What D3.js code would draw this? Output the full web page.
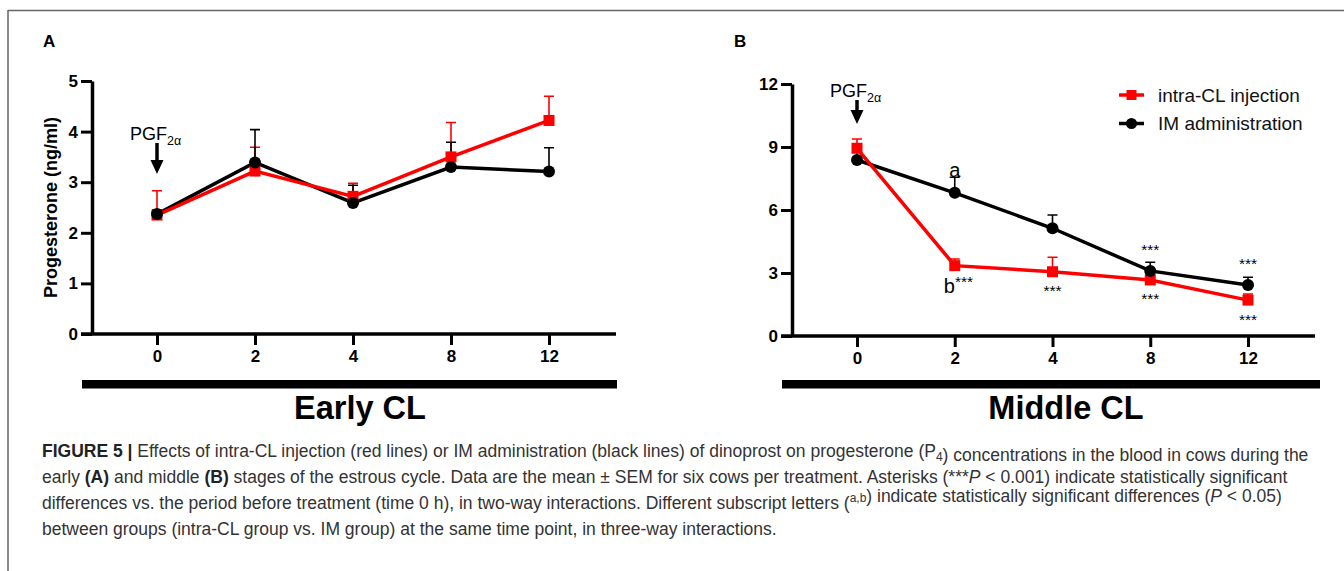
<!DOCTYPE html>
<meta charset="utf-8" />
<script src="https://d3js.org/d3.v7.min.js"></script>
<style>
  body { margin: 0; background: #fff; }
  text { font-family: "Liberation Sans", Arial, Helvetica, sans-serif; }
</style>
<div id="my_dataviz"></div>

<script>
  // sampling times (h) and the two treatments
  const times = ["0", "2", "4", "8", "12"];

  // panel A - early CL (mean, SEM)
  const earlyIntraCL = [2.35, 3.22, 2.72, 3.5, 4.22];
  const earlyIntraCLSem = [0.48, 0.47, 0.26, 0.68, 0.48];
  const earlyIM = [2.37, 3.39, 2.59, 3.3, 3.21];
  const earlyIMSem = [0.08, 0.65, 0.35, 0.49, 0.47];

  // panel B - middle CL (mean, SEM)
  const middleIntraCL = [8.94, 3.35, 3.06, 2.67, 1.71];
  const middleIntraCLSem = [0.44, 0.32, 0.69, 0.22, 0.29];
  const middleIM = [8.38, 6.82, 5.13, 3.1, 2.43];
  const middleIMSem = [0.48, 0.74, 0.63, 0.41, 0.37];

  const earlyTicks = [0, 1, 2, 3, 4, 5];
  const middleTicks = [0, 3, 6, 9, 12];

  const seriesNames = ["intra-CL injection", "IM administration"];
  const red = "#ff0000";

  const svg = d3
    .select("#my_dataviz")
    .append("svg")
    .attr("width", 1344)
    .attr("height", 571);

  // frame (top and left rules)
  svg.append("line").attr("x1", 8).attr("x2", 1344).attr("y1", 10.5).attr("y2", 10.5)
    .attr("stroke", "#666").attr("stroke-width", 1.5);
  svg.append("line").attr("x1", 8).attr("x2", 8).attr("y1", 10).attr("y2", 571)
    .attr("stroke", "#666").attr("stroke-width", 1.5);

  function drawPanel(p) {
    const x = d3.scalePoint().domain(times).range([p.x0, p.x1]);
    const y = d3.scaleLinear().domain([0, p.ymax]).range([p.yBottom, p.yTop]);
    const g = svg.append("g");

    // panel letter
    g.append("text").attr("x", p.letterX).attr("y", 47)
      .style("font-weight", "bold").style("font-size", "17px").text(p.letter);

    // y axis
    const yAxis = g.append("g")
      .attr("transform", `translate(${p.axisX},0)`)
      .call(d3.axisLeft(y).tickValues(p.ticks).tickFormat(d3.format("d"))
        .tickSize(11).tickPadding(3).tickSizeOuter(0));
    yAxis.select(".domain").attr("stroke-width", 3.5);
    yAxis.selectAll(".tick line").attr("stroke-width", 3);
    yAxis.selectAll(".tick text").style("font-size", "17px").style("font-weight", "bold")
      .attr("fill", "#000");

    // x axis: line starts at y tick end
    g.append("line").attr("x1", p.axisX - 11).attr("x2", p.xEnd)
      .attr("y1", p.yBottom).attr("y2", p.yBottom)
      .attr("stroke", "#000").attr("stroke-width", 3.5);
    const xAxis = g.append("g")
      .attr("transform", `translate(0,${p.yBottom})`)
      .call(d3.axisBottom(x).tickSize(11).tickPadding(5).tickSizeOuter(0));
    xAxis.select(".domain").remove();
    xAxis.selectAll(".tick line").attr("stroke-width", 3);
    xAxis.selectAll(".tick text").style("font-size", "17px").style("font-weight", "bold")
      .attr("fill", "#000");

    // stage bar and title
    g.append("rect").attr("x", p.axisX - 10).attr("width", p.barEnd - p.axisX + 10)
      .attr("y", 380).attr("height", 8.5).attr("fill", "#000");
    g.append("text").attr("x", p.titleX).attr("y", 419)
      .attr("text-anchor", "middle").style("font-weight", "bold").style("font-size", "32.5px")
      .text(p.title);

    if (p.yLabel) {
      g.append("text")
        .attr("transform", `translate(57,${(p.yTop + p.yBottom) / 2}) rotate(-90)`)
        .attr("text-anchor", "middle").style("font-weight", "bold").style("font-size", "18px")
        .text(p.yLabel);
    }

    // PGF2a label with arrow over time 0
    const ax = x("0");
    const lbl = g.append("text").attr("x", ax - 27).attr("y", p.pgfY).style("font-size", "18px");
    lbl.append("tspan").text("PGF");
    lbl.append("tspan").attr("dy", 5).style("font-size", "12.5px").text("2α");
    g.append("line").attr("x1", ax).attr("x2", ax).attr("y1", p.pgfY + 3).attr("y2", p.arrowTip - 10)
      .attr("stroke", "#000").attr("stroke-width", 3.5);
    g.append("path")
      .attr("d", `M${ax - 6.5},${p.arrowTip - 14}L${ax + 6.5},${p.arrowTip - 14}L${ax},${p.arrowTip}Z`)
      .attr("fill", "#000");

    const series = [
      { mean: p.red, sem: p.redSem, color: red },
      { mean: p.black, sem: p.blackSem, color: "#000" },
    ];

    // upper SEM bars
    series.forEach(function (s) {
      g.selectAll(null).data(times).join("path")
        .attr("d", function (t, i) {
          const xx = x(t), y0 = y(s.mean[i]), y1 = y(s.mean[i] + s.sem[i]);
          return `M${xx},${y0}V${y1}M${xx - 5},${y1}H${xx + 5}`;
        })
        .attr("fill", "none").attr("stroke", s.color).attr("stroke-width", 1.6);
    });

    const line = d3.line().x(function (d) { return x(d[0]); }).y(function (d) { return y(d[1]); });
    [series[1], series[0]].forEach(function (s) {
      g.append("path").datum(d3.zip(times, s.mean)).attr("d", line)
        .attr("fill", "none").attr("stroke", s.color).attr("stroke-width", 3.5);
    });

    g.selectAll(null).data(d3.zip(times, series[0].mean)).join("rect")
      .attr("x", function (d) { return x(d[0]) - 5.5; })
      .attr("y", function (d) { return y(d[1]) - 5.5; })
      .attr("width", 11).attr("height", 11).attr("fill", red);
    g.selectAll(null).data(d3.zip(times, series[1].mean)).join("circle")
      .attr("cx", function (d) { return x(d[0]); })
      .attr("cy", function (d) { return y(d[1]); })
      .attr("r", 6).attr("fill", "#000");

    return { x: x, y: y, g: g };
  }

  const A = drawPanel({
    letter: "A", letterX: 43, title: "Early CL", titleX: 360, yLabel: "Progesterone (ng/ml)",
    x0: 157, x1: 549, axisX: 92, xEnd: 616, barEnd: 617,
    yBottom: 334, yTop: 81, ymax: 5, ticks: earlyTicks,
    pgfY: 140, arrowTip: 174,
    red: earlyIntraCL, redSem: earlyIntraCLSem, black: earlyIM, blackSem: earlyIMSem,
  });

  const B = drawPanel({
    letter: "B", letterX: 734, title: "Middle CL", titleX: 1066,
    x0: 857, x1: 1248, axisX: 792, xEnd: 1315, barEnd: 1320,
    yBottom: 336, yTop: 84, ymax: 12, ticks: middleTicks,
    pgfY: 97, arrowTip: 124,
    red: middleIntraCL, redSem: middleIntraCLSem, black: middleIM, blackSem: middleIMSem,
  });

  // significance marks in panel B, placed relative to the points
  const marks = [
    { t: "2", v: middleIM[1], dy: -16, text: "a", size: 20 },
    { t: "4", v: middleIntraCL[2], dy: 24, text: "***", size: 15.5 },
    { t: "8", v: middleIM[3], dy: -16, text: "***", size: 15.5 },
    { t: "8", v: middleIntraCL[3], dy: 24, text: "***", size: 15.5 },
    { t: "12", v: middleIM[4], dy: -16, text: "***", size: 15.5 },
    { t: "12", v: middleIntraCL[4], dy: 25, text: "***", size: 15.5 },
  ];
  B.g.selectAll(null).data(marks).join("text")
    .attr("x", function (d) { return B.x(d.t); })
    .attr("y", function (d) { return B.y(d.v) + d.dy; })
    .attr("text-anchor", "middle")
    .style("font-size", function (d) { return d.size + "px"; })
    .text(function (d) { return d.text; });
  const bLabel = B.g.append("text")
    .attr("x", B.x("2") - 11).attr("y", B.y(middleIntraCL[1]) + 27)
    .style("font-size", "20px");
  bLabel.append("tspan").text("b");
  bLabel.append("tspan").attr("dy", -6).style("font-size", "15.5px").text("***");

  // legend
  const legend = svg.append("g").attr("transform", "translate(1119,95)");
  seriesNames.forEach(function (name, i) {
    const row = legend.append("g").attr("transform", `translate(0,${i * 28.5})`);
    const c = i === 0 ? red : "#000";
    row.append("line").attr("x1", 0).attr("x2", 25).attr("stroke", c).attr("stroke-width", 3.5);
    if (i === 0) {
      row.append("rect").attr("x", 7.5).attr("y", -5).attr("width", 10).attr("height", 10).attr("fill", c);
    } else {
      row.append("circle").attr("cx", 12.5).attr("r", 5.5).attr("fill", c);
    }
    row.append("text").attr("x", 39).attr("y", 6.5).style("font-size", "19px").attr("fill", "#111").text(name);
  });

  // caption
  const caption = [
    [["FIGURE 5 | ", "b"], ["Effects of intra-CL injection (red lines) or IM administration (black lines) of dinoprost on progesterone (P", ""], ["4", "sub"], [") concentrations in the blood in cows during the", ""]],
    [["early ", ""], ["(A)", "b"], [" and middle ", ""], ["(B)", "b"], [" stages of the estrous cycle. Data are the mean ± SEM for six cows per treatment. Asterisks (***", ""], ["P", "i"], [" < 0.001) indicate statistically significant", ""]],
    [["differences vs. the period before treatment (time 0 h), in two-way interactions. Different subscript letters (", ""], ["a,b", "sup"], [") indicate statistically significant differences (", ""], ["P", "i"], [" < 0.05)", ""]],
    [["between groups (intra-CL group vs. IM group) at the same time point, in three-way interactions.", ""]],
  ];
  caption.forEach(function (segs, i) {
    const t = svg.append("text").attr("x", 42).attr("y", 457 + i * 26)
      .style("font-size", "17.5px").attr("fill", "#333");
    segs.forEach(function (s) {
      const ts = t.append("tspan").text(s[0]);
      if (s[1] === "b") ts.style("font-weight", "bold").attr("fill", "#222");
      if (s[1] === "i") ts.style("font-style", "italic");
      if (s[1] === "sub") ts.attr("dy", 4).style("font-size", "12px");
      if (s[1] === "sup") ts.attr("dy", -7).style("font-size", "12px");
      if (s[1] === "sub" || s[1] === "sup") {
        t.append("tspan").attr("dy", s[1] === "sub" ? -4 : 7).text("");
      }
    });
  });
</script>
